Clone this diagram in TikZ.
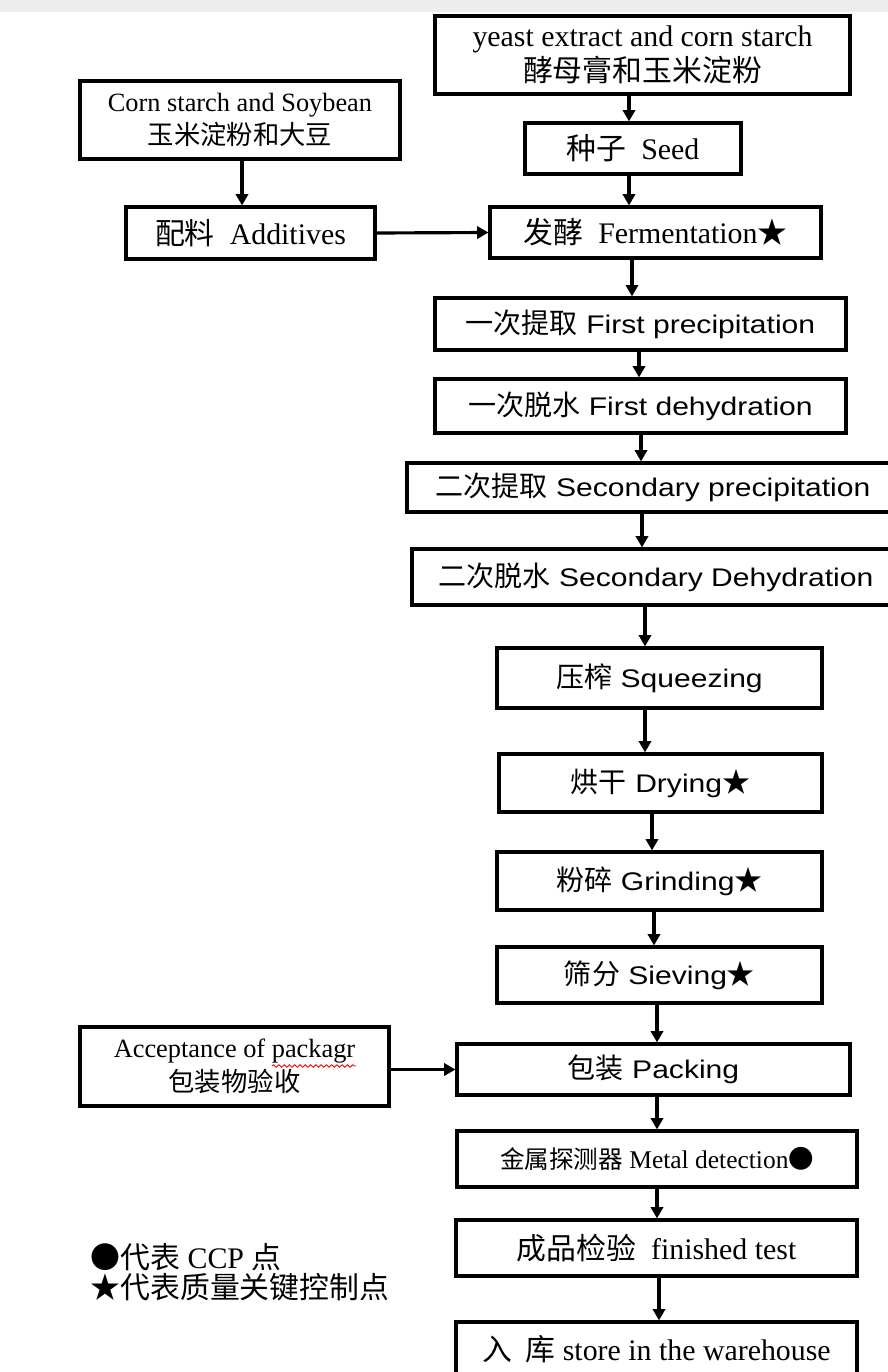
\documentclass[tikz,border=0pt]{standalone}
\usepackage{fontspec}
\setmainfont{Liberation Serif}
\newfontfamily\arialf{Liberation Sans}[FakeStretch=1.18]
\newfontfamily\cjk{Noto Sans CJK SC}
\newfontfamily\cjks{Noto Sans CJK SC}[Scale=1.1]
\usetikzlibrary{arrows.meta, positioning, decorations.pathmorphing}

\begin{document}
\begin{tikzpicture}[x=0.02cm, y=-0.02cm,
			every node/.style={draw, rectangle, line width=1.8pt, inner sep=0pt, align=center},
			serifbox/.style={font=\fontsize{17}{19.5}\selectfont},
			smallbox/.style={font=\fontsize{15}{19}\selectfont},
			sansbox/.style={font=\arialf\fontsize{14.5}{17}\selectfont},
			arr/.style={line width=1.8pt, -{Triangle[length=6.5pt,width=7pt]}},
			legend/.style={draw=none, anchor=west, font=\fontsize{17}{19}\selectfont}
		]
			\useasboundingbox (0,0) rectangle (888,1372);
			\fill[black!7] (0,0) rectangle (888,12);

			% raw materials
			\node (yeast) [serifbox, minimum width=8.3cm, minimum height=1.56cm] at (642.5,55)
			{yeast extract and corn starch\\{\cjk 酵母膏和玉米淀粉}};
			\node (corn) [smallbox, minimum width=6.4cm, minimum height=1.56cm] at (240,120)
			{Corn starch and Soybean\\{\cjk 玉米淀粉和大豆}};
			\node (seed) [serifbox, minimum width=4.32cm, minimum height=1.02cm] at (633,148.5)
			{{\cjk 种子}\ \ Seed};
			\node (add) [serifbox, minimum width=4.98cm, minimum height=1.04cm] at (250.5,233)
			{{\cjk 配料}\ \ Additives};
			\node (ferm) [serifbox, minimum width=6.62cm, minimum height=1.02cm] at (655.5,232.5)
			{{\cjk 发酵}\ \ Fermentation{\cjk ★}};

			% process line
			\node (prec1) [sansbox, minimum width=8.22cm, minimum height=1.04cm] at (640.5,324)
			{{\cjks 一次提取} First precipitation};
			\node (dehy1) [sansbox, minimum width=8.22cm, minimum height=1.08cm] at (640.5,406)
			{{\cjks 一次脱水} First dehydration};
			\node (prec2) [sansbox, minimum width=9.84cm, minimum height=0.98cm] at (653,487.5)
			{{\cjks 二次提取} Secondary precipitation};
			\node (dehy2) [sansbox, minimum width=9.76cm, minimum height=1.12cm] at (656,577)
			{{\cjks 二次脱水} Secondary Dehydration};
			\node (squeeze) [sansbox, minimum width=6.5cm, minimum height=1.2cm] at (659.5,678)
			{{\cjks 压榨} Squeezing};
			\node (dry) [sansbox, minimum width=6.46cm, minimum height=1.16cm] at (660.5,783)
			{{\cjks 烘干} Drying{\cjks ★}};
			\node (grind) [sansbox, minimum width=6.5cm, minimum height=1.16cm] at (659.5,881)
			{{\cjks 粉碎} Grinding{\cjks ★}};
			\node (sieve) [sansbox, minimum width=6.5cm, minimum height=1.12cm] at (659.5,975)
			{{\cjks 筛分} Sieving{\cjks ★}};

			% packing and storage
			\node (accept) [smallbox, minimum width=6.18cm, minimum height=1.58cm] at (234.5,1066.5)
			{Acceptance of packagr\\{\cjk 包装物验收}};
			\node (pack) [sansbox, minimum width=7.86cm, minimum height=1.02cm] at (653.5,1069.5)
			{{\cjks 包装} Packing};
			\node (metal) [font=\fontsize{14.5}{17}\selectfont, minimum width=8cm, minimum height=1.12cm] at (657,1159)
			{{\cjk\fontsize{14}{17}\selectfont 金属探测器} Metal detection{\cjk ●}};
			\node (fin) [serifbox, minimum width=8.02cm, minimum height=1.12cm] at (656.5,1248)
			{{\cjk 成品检验}\ \ finished test};
			\node (store) [serifbox, minimum width=8.02cm, minimum height=1.08cm] at (656.5,1349)
			{{\cjk 入\ \ 库} store in the warehouse};

			\draw[red, line width=0.5pt, decorate, decoration={snake, amplitude=0.7pt, segment length=3pt}]
				(272,1066) -- (356,1066);

			% legend
			\node (ccp) [legend] at (89,1257) {{\cjk ●代表} CCP {\cjk 点}};
			\node (key) [legend] at (89,1287) {{\cjk ★代表质量关键控制点}};

			% arrows
			\draw[arr] (yeast.south -| 629,0) -- (seed.north -| 629,0);
			\draw[arr] (seed.south -| 629,0) -- (ferm.north -| 629,0);
			\draw[arr] (corn.south -| 242,0) -- (add.north -| 242,0);
			\draw[arr] (add.east) -- (ferm.west);
			\draw[arr] (ferm.south -| 632,0) -- (prec1.north -| 632,0);
			\draw[arr] (prec1.south -| 639,0) -- (dehy1.north -| 639,0);
			\draw[arr] (dehy1.south -| 641,0) -- (prec2.north -| 641,0);
			\draw[arr] (prec2.south -| 642,0) -- (dehy2.north -| 642,0);
			\draw[arr] (dehy2.south -| 645,0) -- (squeeze.north -| 645,0);
			\draw[arr] (squeeze.south -| 645,0) -- (dry.north -| 645,0);
			\draw[arr] (dry.south -| 652,0) -- (grind.north -| 652,0);
			\draw[arr] (grind.south -| 654,0) -- (sieve.north -| 654,0);
			\draw[arr] (sieve.south -| 657,0) -- (pack.north -| 657,0);
			\draw[arr] (accept.east |- pack.west) -- (pack.west);
			\draw[arr] (pack.south -| 657,0) -- (metal.north -| 657,0);
			\draw[arr] (metal.south -| 657,0) -- (fin.north -| 657,0);
			\draw[arr] (fin.south -| 659,0) -- (store.north -| 659,0);
		\end{tikzpicture}
\end{document}
